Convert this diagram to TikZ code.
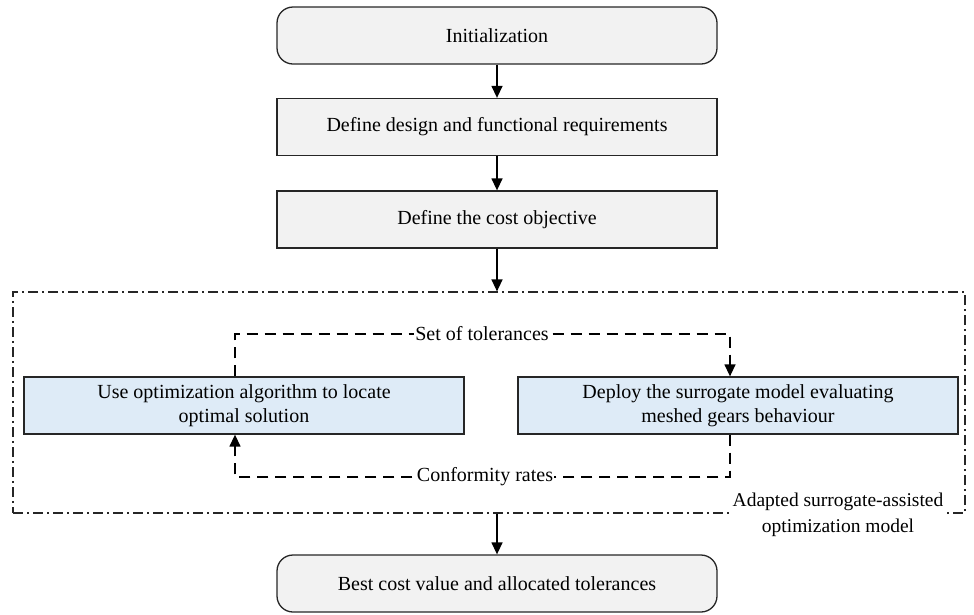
\documentclass[tikz,border=0pt]{standalone}
\usepackage{fontspec}
\setmainfont{Liberation Serif}
\usetikzlibrary{arrows.meta}
\definecolor{boxgray}{HTML}{F2F2F2}
\definecolor{boxblue}{HTML}{DEEBF7}
\begin{document}
\begin{tikzpicture}[x=1pt,y=-1pt,
  graybox/.style={draw=black!85,line width=1.3pt,fill=boxgray,minimum width=440pt,minimum height=57pt,inner sep=0pt,font=\fontsize{20}{24}\selectfont},
  roundbox/.style={graybox,rounded corners=16pt},
  bluebox/.style={draw=black!85,line width=1.3pt,fill=boxblue,minimum width=440pt,minimum height=57pt,inner sep=0pt,align=center,font=\fontsize{20}{24}\selectfont},
  flow/.style={line width=1.4pt,-{Triangle[length=12pt,width=11pt]}},
  loop/.style={line width=1.6pt,dash pattern=on 11pt off 7pt},
  lbl/.style={fill=white,inner sep=1pt,font=\fontsize{20}{24}\selectfont}]
\useasboundingbox (0,0) rectangle (974,614);
\node[roundbox] (init) at (497,35.5) {Initialization};
\node[graybox] (req) at (497,127) {Define design and functional requirements};
\node[graybox] (cost) at (497,219.5) {Define the cost objective};
\node[draw=black!85,line width=1.2pt,dash pattern=on 10pt off 4pt on 2pt off 4pt,minimum width=952pt,minimum height=221pt,inner sep=0pt] (frame) at (489,402.5) {};
\node[bluebox] (opt) at (244,405.5) {Use optimization algorithm to locate\\optimal solution};
\node[bluebox] (sur) at (738,405.5) {Deploy the surrogate model evaluating\\meshed gears behaviour};
\node[roundbox] (best) at (497,583.5) {Best cost value and allocated tolerances};
\node[fill=white,inner sep=2pt,align=center,font=\fontsize{19.5}{26}\selectfont] (cap) at (838,515) {Adapted surrogate-assisted\\optimization model};
\draw[flow] (init) -- (req);
\draw[flow] (req) -- (cost);
\draw[flow] (cost.south) -- (cost.south |- frame.north);
\draw[flow] (best.north |- frame.south) -- (best);
\coordinate (t1) at (235,334);
\coordinate (t2) at (730,334);
\coordinate (t3) at (730,360);
\coordinate (b1) at (730,477);
\coordinate (b2) at (235,477);
\coordinate (b3) at (235,452);
\draw[loop] (opt.north -| t1) -- (t1) -- (t2) -- (t3);
\draw[flow] (t3) -- (sur.north -| t2);
\draw[loop] (sur.south -| b1) -- (b1) -- (b2) -- (b3);
\draw[flow] (b3) -- (opt.south -| b2);
\node[lbl] (setl) at (482,334) {Set of tolerances};
\node[lbl] (confl) at (485,477) {Conformity rates};
\end{tikzpicture}
\end{document}
